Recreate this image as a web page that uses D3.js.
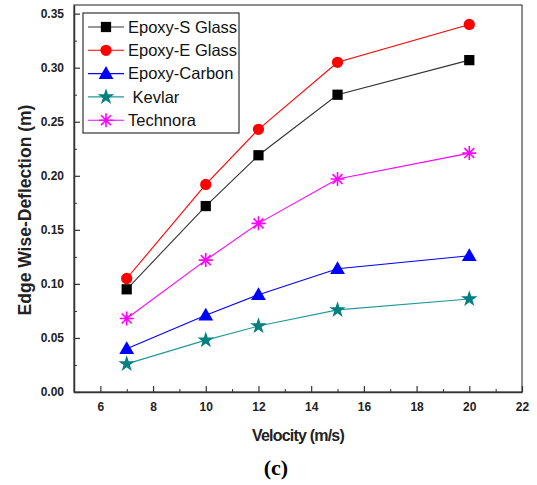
<!DOCTYPE html>
<html lang="en">
<head>
    <meta charset="UTF-8">
    <title>Edge Wise-Deflection</title>
    <script src="https://d3js.org/d3.v7.min.js"></script>
    <style>
        body { margin: 0; background: #fff; }
        svg { display: block; font-family: "Liberation Sans", Arial, sans-serif; }
        .tick text { font-size: 12px; font-weight: bold; fill: #222; }
        .axis-title { font-weight: bold; fill: #222; }
    </style>
</head>
<body>
    <svg width="537" height="485"></svg>
    <script>
        // Data
        const velocity = [7, 10, 12, 15, 20];
        const seriesNames = ["Epoxy-S Glass", "Epoxy-E Glass", "Epoxy-Carbon", " Kevlar", "Technora"];
        const sGlass   = [0.095, 0.172, 0.219, 0.275, 0.307];
        const eGlass   = [0.105, 0.192, 0.243, 0.305, 0.340];
        const carbon   = [0.040, 0.071, 0.090, 0.114, 0.126];
        const kevlar   = [0.026, 0.048, 0.061, 0.076, 0.086];
        const technora = [0.068, 0.122, 0.156, 0.197, 0.221];
        const xTicks = [6, 8, 10, 12, 14, 16, 18, 20, 22];
        const yTicks = [0, 0.05, 0.10, 0.15, 0.20, 0.25, 0.30, 0.35];

        const colors = ["#000000", "#ff0000", "#0000ff", "#008080", "#ff00ff"];
        const lineColors = ["#333333", "#ff0000", "#0000ff", "#229999", "#ff00ff"];
        const symbols = ["square", "circle", "triangle", "star", "asterisk"];
        const allValues = [sGlass, eGlass, carbon, kevlar, technora];

        const margin = {top: 5, right: 15, bottom: 93, left: 74},
              width = 537 - margin.left - margin.right,
              height = 485 - margin.top - margin.bottom;

        const svg = d3.select("svg");
        const g = svg.append("g").attr("transform", `translate(${margin.left},${margin.top})`);

        const x = d3.scaleLinear().domain([5, 22]).range([0, width]);
        const y = d3.scaleLinear().domain([0, 0.358]).range([height, 0]);

        // frame (top / right)
        g.append("rect")
         .attr("width", width).attr("height", height)
         .attr("fill", "none").attr("stroke", "#444").attr("stroke-width", 1.2);

        // minor ticks
        g.append("g").attr("transform", `translate(0,${height})`)
         .call(d3.axisBottom(x).tickValues(d3.range(5, 22, 2)).tickSize(-3).tickFormat(""))
         .call(a => a.select(".domain").remove())
         .selectAll("line").attr("stroke", "#333");
        g.append("g")
         .call(d3.axisLeft(y).tickValues(d3.range(0.025, 0.35, 0.05)).tickSize(-3).tickFormat(""))
         .call(a => a.select(".domain").remove())
         .selectAll("line").attr("stroke", "#333");

        // major axes, ticks pointing inward
        const xAxis = g.append("g").attr("transform", `translate(0,${height})`)
         .call(d3.axisBottom(x).tickValues(xTicks).tickSizeInner(-6).tickSizeOuter(0).tickPadding(10));
        xAxis.select(".domain").attr("stroke", "#333").attr("stroke-width", 1.5);
        xAxis.selectAll(".tick line").attr("stroke", "#333").attr("stroke-width", 1.2);

        const yAxis = g.append("g")
         .call(d3.axisLeft(y).tickValues(yTicks).tickSizeInner(-6).tickSizeOuter(0).tickPadding(10)
                 .tickFormat(d3.format(".2f")));
        yAxis.select(".domain").attr("stroke", "#333").attr("stroke-width", 1.5);
        yAxis.selectAll(".tick line").attr("stroke", "#333").attr("stroke-width", 1.2);

        // symbol drawing
        function asteriskPath(s) {
            const r = s / 2;
            let p = "";
            for (let i = 0; i < 4; i++) {
                const a = i * Math.PI / 4;
                const dx = r * Math.cos(a), dy = r * Math.sin(a);
                p += `M${-dx},${-dy}L${dx},${dy}`;
            }
            return p;
        }
        function drawMarker(sel, kind, color) {
            if (kind === "asterisk") {
                sel.append("path").attr("d", asteriskPath(14))
                   .attr("stroke", color).attr("stroke-width", 1.6).attr("fill", "none");
                return;
            }
            const type = {square: d3.symbolSquare, circle: d3.symbolCircle,
                          triangle: d3.symbolTriangle, star: d3.symbolStar}[kind];
            const size = {square: 105, circle: 100, triangle: 95, star: 85}[kind];
            sel.append("path")
               .attr("d", d3.symbol().type(type).size(size)())
               .attr("transform", kind === "triangle" ? "translate(0,1)" : null)
               .attr("fill", color);
        }

        const line = d3.line().x(d => x(d[0])).y(d => y(d[1]));

        allValues.forEach((vals, i) => {
            const pts = velocity.map((v, j) => [v, vals[j]]);
            g.append("path").datum(pts)
             .attr("d", line).attr("fill", "none")
             .attr("stroke", lineColors[i]).attr("stroke-width", 1.1);
            pts.forEach(p => {
                const m = g.append("g").attr("transform", `translate(${x(p[0])},${y(p[1])})`);
                drawMarker(m, symbols[i], colors[i]);
            });
        });

        // legend
        const legend = g.append("g").attr("transform", "translate(9,8)");
        legend.append("rect").attr("width", 156).attr("height", 120)
              .attr("fill", "#fff").attr("stroke", "#333").attr("stroke-width", 1.2);
        seriesNames.forEach((name, i) => {
            const row = legend.append("g").attr("transform", `translate(0,${14 + i * 23.3})`);
            row.append("line").attr("x1", 5).attr("x2", 41)
               .attr("stroke", lineColors[i]).attr("stroke-width", 1.1);
            const m = row.append("g").attr("transform", "translate(23,0)");
            drawMarker(m, symbols[i], colors[i]);
            row.append("text").attr("x", 45).attr("dy", "0.35em")
               .attr("font-size", 16.5).attr("fill", "#111")
               .style("white-space", "pre")
               .text(name);
        });

        // axis titles
        svg.append("text").attr("class", "axis-title")
           .attr("transform", `translate(31,210) rotate(-90)`)
           .attr("text-anchor", "middle").style("font-size", "17.5px")
           .text("Edge Wise-Deflection (m)");
        svg.append("text").attr("class", "axis-title")
           .attr("x", 298).attr("y", 441)
           .attr("text-anchor", "middle").style("font-size", "16px").style("letter-spacing", "-0.8px")
           .text("Velocity (m/s)");
        svg.append("text")
           .attr("x", 276).attr("y", 475)
           .attr("text-anchor", "middle")
           .style("font-family", "'Liberation Serif', 'Times New Roman', serif")
           .style("font-weight", "bold").style("font-size", "22px")
           .text("(c)");
    </script>
</body>
</html>
